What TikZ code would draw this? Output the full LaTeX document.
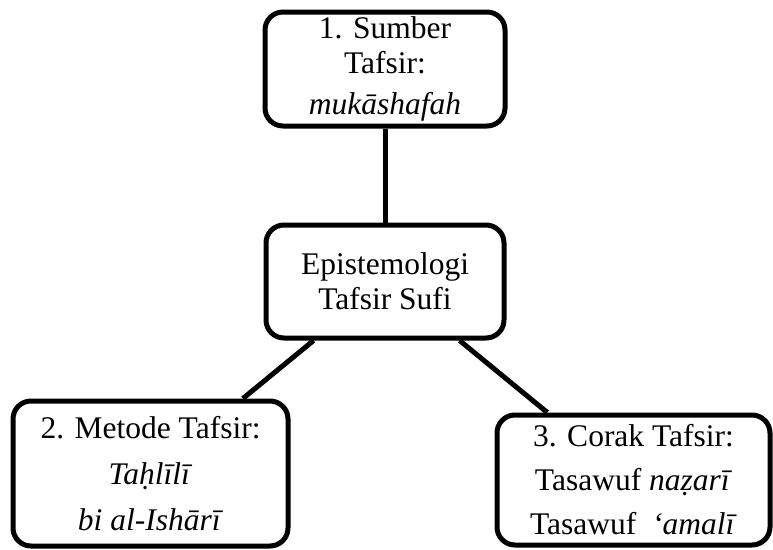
\documentclass[tikz,border=0pt]{standalone}
\usepackage{fontspec}
\setmainfont{Liberation Serif}
\usetikzlibrary{calc}
\tikzset{
  box/.style={draw=black, line width=5pt, rounded corners=18pt, fill=white,
    align=center, inner sep=0pt},
  link/.style={draw=black, line width=5pt},
}
\begin{document}
\begin{tikzpicture}[x=1pt,y=-1pt]
\useasboundingbox[fill=white] (0,0) rectangle (773,549);
\node[box, minimum width=240pt, minimum height=114pt,
  font=\fontsize{31.5}{35}\selectfont] (src) at (385,69)
  {1. Sumber\\Tafsir:\\[6pt]\textit{mukāshafah}};
\node[box, minimum width=238pt, minimum height=113pt,
  font=\fontsize{31.5}{35}\selectfont] (epi) at (385,281.5)
  {Epistemologi\\Tafsir Sufi};
\node[box, minimum width=275pt, minimum height=145pt,
  font=\fontsize{31.5}{46}\selectfont] (met) at (150.5,473.5)
  {2. Metode Tafsir:\\\textit{Taḥlīlī}\\\textit{bi al-Ishārī}};
\node[box, minimum width=273pt, minimum height=130pt,
  font=\fontsize{31.5}{44}\selectfont] (cor) at (633.5,480)
  {3. Corak Tafsir:\\Tasawuf \textit{naẓarī}\\Tasawuf\ \ \textit{‘amalī}};
\draw[link] (src.south) -- (epi.north);
\draw[link] ($(epi.south west)!0.206!(epi.south east)$) -- ($(met.north west)!0.83!(met.north east)$);
\draw[link] ($(epi.south west)!0.807!(epi.south east)$) -- ($(cor.north west)!0.19!(cor.north east)$);
\end{tikzpicture}
\end{document}
